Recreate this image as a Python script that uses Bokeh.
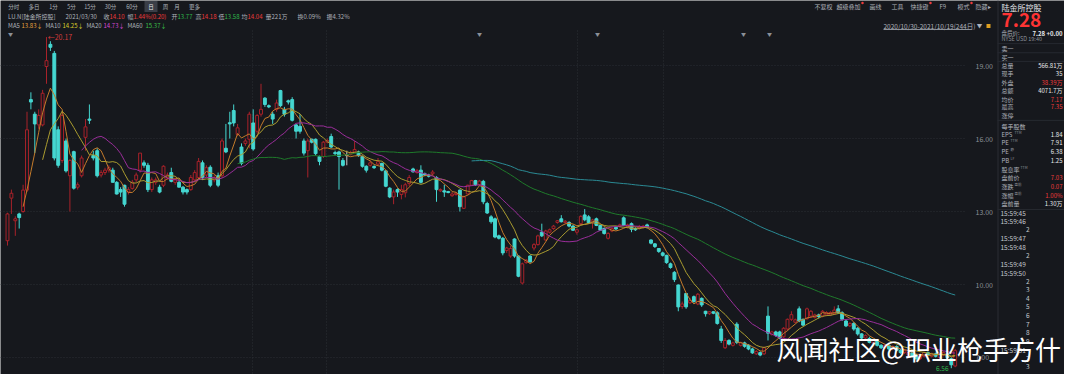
import numpy as np
import pandas as pd
from bokeh.plotting import figure
from bokeh.models import (Range1d, LinearAxis, FixedTicker, PrintfTickFormatter,
                          ColumnDataSource)
from bokeh.core.properties import value
from bokeh.embed import file_html
from bokeh.resources import INLINE

# ---------------- data (daily candles, 2020/10/30 - 2021/10/19) ----------------
opens = [
    11.80, 13.55, 12.62, 12.90, 13.00, 13.88, 17.60, 17.00, 16.56, 16.56,
    18.96, 19.87, 19.50, 16.36, 15.10, 15.90, 14.47, 15.46, 14.00, 14.47,
    16.05, 16.80, 15.30, 15.50, 14.50, 14.60, 14.70, 14.70, 14.20, 13.90,
    14.08, 13.80, 13.95, 14.30, 14.70, 15.00, 14.90, 13.90, 14.20, 14.00,
    14.08, 14.40, 14.60, 14.20, 14.20, 14.00, 13.90, 13.90, 14.30, 14.40,
    15.00, 14.50, 14.82, 14.30, 14.47, 14.47, 15.60, 16.65, 17.15, 16.17,
    15.65, 15.80, 15.97, 16.64, 16.30, 17.00, 17.66, 17.35, 17.00, 17.20,
    17.97, 17.20, 17.55, 17.60, 16.56, 16.50, 15.90, 15.50, 15.97, 15.97,
    15.26, 15.26, 15.85, 16.08, 15.42, 15.45, 15.10, 15.30, 15.35, 15.45,
    15.45, 15.26, 14.86, 14.90, 14.85, 14.95, 14.98, 14.67, 13.96, 13.60,
    13.90, 13.70, 13.77, 14.15, 14.75, 14.60, 14.70, 14.55, 14.50, 14.55,
    14.40, 13.85, 13.85, 13.82, 13.65, 13.70, 13.88, 13.13, 13.72, 14.08,
    14.27, 14.10, 14.24, 13.33, 12.78, 12.70, 12.00, 11.90, 11.40, 11.17,
    11.87, 11.17, 10.06, 10.90, 11.17, 11.50, 11.64, 12.15, 11.83, 12.15,
    12.30, 12.55, 12.70, 12.55, 12.55, 12.40, 12.15, 12.50, 12.86, 12.78,
    12.55, 12.70, 12.43, 12.30, 11.90, 12.20, 12.35, 12.40, 12.74, 12.35,
    12.50, 12.30, 12.30, 12.35, 12.45, 11.83, 11.67, 11.48, 11.30, 11.20,
    10.85, 10.50, 9.98, 9.10, 9.63, 9.25, 9.50, 9.20, 9.43, 8.90,
    8.80, 8.88, 8.84, 8.17, 7.40, 7.70, 7.50, 8.37, 7.50, 7.60,
    7.50, 7.35, 7.15, 7.20, 7.15, 8.70, 7.95, 8.05, 8.05, 7.85,
    8.17, 8.57, 8.45, 9.00, 8.57, 8.60, 8.70, 8.65, 8.75, 8.70,
    8.75, 8.75, 8.80, 9.00, 8.84, 8.50, 8.30, 8.40, 8.20, 7.97,
    7.80, 7.78, 7.60, 7.70, 7.50, 7.40, 7.50, 7.35, 7.45, 7.30,
    7.20, 7.10, 7.20, 7.10, 6.95, 7.05, 7.20, 7.05, 7.15, 7.00,
    7.10, 7.15, 6.95, 6.65,
]
highs = [
    12.95, 13.90, 12.80, 12.95, 14.10, 17.10, 17.90, 17.10, 17.20, 18.00,
    20.17, 20.00, 19.60, 16.50, 17.10, 16.00, 15.15, 15.50, 14.20, 15.30,
    16.80, 17.40, 15.50, 15.60, 14.70, 14.80, 14.90, 14.80, 14.25, 14.00,
    14.10, 14.00, 14.30, 14.60, 15.40, 15.10, 15.00, 14.40, 14.40, 14.10,
    14.90, 14.60, 14.80, 14.40, 14.30, 14.05, 13.95, 14.50, 14.70, 15.20,
    15.10, 14.90, 14.90, 14.50, 14.60, 16.00, 16.60, 17.10, 17.40, 16.60,
    15.80, 16.00, 17.10, 17.20, 17.00, 18.25, 17.70, 17.40, 17.10, 17.60,
    18.00, 17.30, 17.60, 17.70, 16.60, 17.00, 16.00, 16.00, 16.00, 16.00,
    15.30, 15.90, 16.00, 16.20, 15.50, 15.50, 15.20, 15.50, 15.50, 15.90,
    15.50, 15.30, 14.90, 15.10, 14.90, 15.20, 15.00, 14.70, 14.00, 13.90,
    13.95, 14.10, 14.18, 14.50, 14.80, 14.75, 14.90, 14.60, 14.55, 14.70,
    14.45, 13.95, 14.10, 13.85, 13.80, 13.80, 13.90, 13.65, 14.10, 14.30,
    14.30, 14.30, 14.30, 13.40, 12.85, 12.75, 12.05, 11.95, 11.55, 11.60,
    11.90, 11.20, 10.90, 11.05, 11.20, 11.70, 12.05, 12.50, 12.25, 12.30,
    12.45, 12.65, 12.85, 12.65, 12.60, 12.45, 12.30, 12.85, 13.10, 12.85,
    12.70, 12.75, 12.45, 12.35, 12.15, 12.35, 12.40, 12.50, 12.80, 12.50,
    12.55, 12.35, 12.45, 12.45, 12.50, 11.85, 11.70, 11.50, 11.35, 11.22,
    10.90, 10.55, 10.00, 9.30, 9.65, 9.45, 9.55, 9.65, 9.47, 8.92,
    8.90, 8.90, 8.90, 8.30, 7.80, 7.75, 7.65, 8.45, 7.65, 7.65,
    7.55, 7.40, 7.30, 7.25, 7.45, 9.10, 8.10, 8.10, 8.10, 8.25,
    8.60, 8.90, 8.60, 9.10, 8.60, 9.05, 8.95, 8.80, 8.80, 8.95,
    8.90, 8.90, 9.10, 9.15, 8.90, 8.55, 8.45, 8.45, 8.25, 8.00,
    7.95, 7.85, 7.75, 7.75, 7.55, 7.55, 7.55, 7.50, 7.50, 7.35,
    7.35, 7.25, 7.25, 7.15, 7.15, 7.25, 7.25, 7.20, 7.20, 7.20,
    7.25, 7.20, 7.00, 7.35,
]
lows = [
    11.60, 12.90, 12.00, 12.30, 12.95, 13.80, 17.20, 15.40, 16.40, 16.50,
    18.25, 19.60, 15.10, 14.80, 15.00, 14.60, 13.00, 13.90, 13.90, 14.40,
    15.50, 16.60, 15.10, 14.40, 14.40, 14.50, 14.60, 14.20, 13.70, 13.60,
    13.20, 13.70, 13.90, 14.20, 14.60, 14.80, 13.80, 13.80, 14.10, 13.75,
    14.00, 14.30, 14.20, 14.10, 14.00, 13.70, 13.70, 13.85, 14.20, 14.30,
    14.30, 14.40, 14.00, 14.20, 14.00, 14.40, 15.40, 16.00, 16.50, 16.10,
    14.90, 15.70, 15.60, 15.50, 16.20, 16.90, 17.30, 17.25, 16.60, 17.10,
    17.30, 16.90, 17.40, 16.70, 16.00, 16.20, 15.30, 14.40, 15.80, 15.30,
    14.90, 15.20, 15.80, 15.60, 15.30, 13.90, 14.85, 14.90, 15.30, 15.40,
    15.25, 14.80, 14.60, 14.85, 14.75, 14.90, 14.65, 14.00, 13.55, 13.30,
    13.60, 13.50, 13.58, 14.05, 14.60, 14.55, 14.15, 14.45, 14.40, 14.50,
    13.40, 13.80, 13.60, 13.75, 13.60, 13.65, 13.00, 13.10, 13.70, 14.05,
    14.05, 14.05, 13.30, 12.90, 12.50, 11.90, 11.85, 11.20, 11.30, 11.10,
    11.10, 10.30, 10.00, 10.85, 10.90, 11.40, 11.60, 11.95, 11.80, 12.10,
    12.25, 12.50, 12.55, 12.50, 12.35, 12.20, 12.05, 12.45, 12.60, 12.50,
    12.30, 12.40, 12.20, 12.05, 11.85, 12.15, 12.25, 12.35, 12.40, 12.30,
    12.15, 12.20, 12.25, 12.30, 12.30, 11.65, 11.50, 11.30, 11.15, 10.85,
    10.65, 10.10, 8.90, 9.00, 9.00, 9.20, 9.25, 9.15, 9.08, 8.68,
    8.75, 8.78, 8.35, 7.60, 7.35, 7.50, 7.45, 7.55, 7.45, 7.40,
    7.30, 7.15, 7.10, 7.05, 7.10, 7.70, 7.90, 7.85, 7.75, 7.80,
    8.10, 8.50, 8.40, 8.45, 8.30, 8.55, 8.65, 8.60, 8.60, 8.65,
    8.70, 8.70, 8.75, 8.80, 8.50, 8.25, 8.25, 8.10, 7.90, 7.75,
    7.75, 7.58, 7.55, 7.45, 7.35, 7.35, 7.30, 7.30, 7.25, 7.15,
    7.15, 7.05, 7.00, 6.90, 6.90, 7.00, 7.05, 7.00, 7.00, 6.95,
    7.05, 6.95, 6.56, 6.60,
]
closes = [
    12.90, 13.75, 12.70, 12.75, 13.88, 16.36, 17.50, 16.60, 16.95, 17.86,
    19.20, 19.75, 15.20, 14.90, 16.95, 14.67, 15.10, 13.96, 14.10, 15.20,
    16.48, 16.75, 15.20, 14.47, 14.60, 14.70, 14.80, 14.20, 13.72, 13.80,
    13.30, 13.90, 14.20, 14.50, 15.40, 14.90, 13.90, 14.30, 14.30, 13.80,
    14.86, 14.50, 14.24, 14.30, 14.00, 13.80, 13.80, 14.40, 14.60, 15.06,
    14.40, 14.80, 14.08, 14.40, 14.08, 15.90, 15.45, 16.60, 16.64, 16.44,
    14.98, 15.90, 17.00, 15.57, 16.95, 17.20, 17.40, 17.30, 16.80, 17.46,
    17.35, 17.00, 17.50, 16.75, 16.30, 16.30, 15.40, 15.90, 15.85, 15.38,
    15.06, 15.85, 15.92, 15.65, 15.38, 15.26, 14.90, 15.30, 15.42, 15.55,
    15.30, 14.86, 14.70, 15.00, 14.80, 15.05, 14.70, 14.04, 13.60, 13.80,
    13.80, 13.90, 14.10, 14.40, 14.63, 14.68, 14.20, 14.50, 14.45, 14.62,
    13.90, 13.90, 13.80, 13.78, 13.72, 13.75, 13.20, 13.60, 14.08, 14.27,
    14.10, 14.25, 13.40, 12.94, 12.58, 11.95, 11.90, 11.30, 11.50, 11.48,
    11.17, 10.34, 10.85, 11.00, 10.93, 11.64, 12.00, 12.00, 12.20, 12.25,
    12.40, 12.62, 12.58, 12.60, 12.40, 12.23, 12.25, 12.80, 12.66, 12.54,
    12.65, 12.43, 12.23, 12.10, 12.10, 12.30, 12.28, 12.45, 12.43, 12.45,
    12.27, 12.25, 12.38, 12.40, 12.38, 11.70, 11.56, 11.36, 11.20, 10.90,
    10.70, 10.20, 9.08, 9.20, 9.08, 9.35, 9.30, 9.60, 9.16, 8.80,
    8.88, 8.82, 8.40, 7.70, 7.70, 7.55, 7.60, 7.62, 7.60, 7.46,
    7.35, 7.19, 7.25, 7.10, 7.40, 8.00, 8.05, 7.90, 7.80, 8.20,
    8.57, 8.76, 8.55, 8.50, 8.33, 9.00, 8.90, 8.75, 8.68, 8.90,
    8.85, 8.85, 8.95, 8.84, 8.57, 8.30, 8.40, 8.17, 7.97, 7.80,
    7.90, 7.62, 7.70, 7.50, 7.40, 7.50, 7.35, 7.45, 7.30, 7.20,
    7.30, 7.20, 7.05, 6.95, 7.10, 7.20, 7.10, 7.15, 7.05, 7.15,
    7.20, 7.00, 6.70, 7.28,
]
first_date, last_date = "2020/10/30", "2021/10/19"
ma_windows = [5, 10, 20, 60, 120]
price_ticks = [7, 10, 13, 16, 19]

hover_index = 102
hover_date = "2021/03/30"
hover_avg = "14.04"
hover_extra = ["量221万", "换0.09%"]
ma_header_names = ["MA5", "MA10", "MA20", "MA60"]
ma_header_values = [13.83, 14.25, 14.73, 15.37]

tabs = ["分时", "多日", "1分", "5分", "15分", "30分", "60分", "日", "周", "月", "更多"]
tools = ["不复权", "超级叠加", "画线", "工具", "快捷键", "F9", "模式", "隐藏▸"]

side_labels = ["卖一", "买一", "总量", "现手", "外盘", "总额", "均价", "最高", "涨停", "每手股数",
               "EPS", "PE", "PE", "PB", "股息率", "盘前价", "涨跌", "涨幅", "盘前量"]
side_sups = ["", "", "", "", "", "", "", "", "", "", "TTM", "TTM", "静", "LF", "TTM", "", "盘前", "盘前", ""]
side_values = ["", "", "566.81万", "35", "38.39万", "4071.7万", "7.17", "7.35", "", "",
               "1.84", "7.91", "6.38", "1.25", "", "7.03", "0.07", "1.00%", "1.30万"]
side_value_red = [0, 0, 0, 0, 1, 0, 1, 1, 0, 0, 0, 0, 0, 0, 0, 1, 1, 1, 0]
ticks_times = ["15:59:45", "15:59:46", "2", "15:59:47", "15:59:48", "2", "15:59:49", "15:59:50",
               "2", "3", "4", "5", "6", "7", "8", "9", "15:59:51", "2", "3"]
WATERMARK = "风闻社区@职业枪手方什"

# ---------------- style / layout constants ----------------
BG = "#16181d"
UP = "#a8222a"
DN = "#45d7d1"
DOJI = "#c9c9c9"
GRID = "#2b2e35"
LBL = "#aeb2ba"
WHITE = "#e6e8ec"
RED = "#ee3b3b"
GRN = "#2fb94c"
AXC = "#8b9098"
FONT = "Noto Sans CJK SC"
MA_COLORS = ["#c47b2b", "#aa9c30", "#9a2e9a", "#1f7a2b", "#2b8a94"]
MA_HEAD_COLORS = ["#e8a33d", "#d9d12b", "#d84ad8", "#3cc04a"]

W, H = 1064, 374
CHART_TOP = 30       # px where the price area starts
CHART_R = 964        # px where the price area ends (axis labels follow)
SIDE_L = 997         # px where the quote panel starts
PXU = 24.33          # pixels per price unit
Y_TOP = 20.44        # price at CHART_TOP
X0, DX = 7.0, 3.9    # first candle px, px per trading day
SY = 0.959           # vertical scale for side panel rows


def X(px):
    return (px - X0) / DX


def Y(gy):
    return Y_TOP - (gy - CHART_TOP) / PXU


def put(xs, ys, texts, color, size, align="left", style="normal"):
    p.text(x=[X(v) for v in xs], y=[Y(v) for v in ys], text=list(texts), text_color=color,
           text_font_size=size, text_align=align, text_baseline="middle",
           text_font=value(FONT), text_font_style=style)


def hline(x0, x1, y, color, dash="solid"):
    p.segment(x0=[X(x0)], y0=[Y(y)], x1=[X(x1)], y1=[Y(y)], line_color=color,
              line_width=1, line_dash=dash)


p = figure(width=W, height=H, x_range=Range1d(X(0), X(W)), y_range=Range1d(Y(H), Y(0)),
           toolbar_location=None, output_backend="svg", x_axis_location=None,
           y_axis_location=None, background_fill_color=BG, border_fill_color=BG,
           outline_line_color=None, min_border=0)
p.grid.visible = False

# ---------------- price axis & grid ----------------
ax = LinearAxis(ticker=FixedTicker(ticks=price_ticks), fixed_location=X(CHART_R),
                formatter=PrintfTickFormatter(format="%.2f"),
                axis_line_color=None, major_tick_line_color=None, minor_tick_line_color=None,
                major_label_text_color=AXC, major_label_text_font_size="7px",
                major_label_standoff=5, major_label_text_font=FONT)
p.add_layout(ax, "right")
p.segment(x0=[X(0)] * len(price_ticks), y0=price_ticks, x1=[X(CHART_R)] * len(price_ticks),
          y1=price_ticks, line_color=GRID, line_dash="1 2", line_width=1)
for gx in [252, 326, 577, 663]:
    p.segment(x0=[X(gx)], y0=[Y(CHART_TOP)], x1=[X(gx)], y1=[Y(H)], line_color=GRID,
              line_dash="1 2", line_width=1)

# ---------------- candles ----------------
n = len(closes)
idx = list(range(n))
o = np.array(opens); h = np.array(highs); l = np.array(lows); c = np.array(closes)
cols = [UP if cc > oo else (DN if cc < oo else DOJI) for oo, cc in zip(opens, closes)]
fills = [BG if cc > oo else col for oo, cc, col in zip(opens, closes, cols)]
src = ColumnDataSource(dict(x=idx, h=highs, l=lows, top=list(np.maximum(o, c)),
                            bot=list(np.minimum(o, c)), col=cols, fill=fills))
p.segment(x0="x", y0="l", x1="x", y1="h", line_color="col", line_width=1, source=src)
p.vbar(x="x", width=0.74, top="top", bottom="bot", fill_color="fill", line_color="col",
       line_width=1, source=src)

s = pd.Series(closes)
for w, colr in zip(ma_windows, MA_COLORS):
    p.line(idx, s.rolling(w).mean().to_numpy(), line_color=colr, line_width=1)

hi = int(np.argmax(h)); lo = int(np.argmin(l))
p.text(x=[hi + 0.3], y=[h[hi]], text=[f"←{h[hi]:.2f}"], text_color="#d23b3b",
       text_font_size="7px", text_baseline="middle", text_font=value(FONT))
p.text(x=[lo - 0.7], y=[l[lo]], text=[f"{l[lo]:.2f}"], text_color=GRN, text_font_size="6.5px",
       text_baseline="middle", text_align="right", text_font=value(FONT))
marks = [10, 479, 597, 743, 769]
put(marks, [33] * len(marks), ["▼"] * len(marks), AXC, "5px", align="center")

# ---------------- header ----------------
p.rect(x=[X(150.5)], y=[Y(6)], width=13 / DX, height=11 / PXU, fill_color="#3a3e47",
       line_color=None)
tab_x = [13.3, 33.5, 53, 71, 89.5, 110, 131.5, 150.5, 165, 176.5, 194]
put(tab_x, [6] * len(tabs), tabs, [WHITE if t == "日" else LBL for t in tabs], "5.5px",
    align="center")

tool_x = [814, 836, 869, 891, 910, 939, 957, 975]
put(tool_x, [6] * len(tools), tools, LBL, "6px")
p.scatter(x=[X(862), X(930), X(971)], y=[Y(2.5)] * 3, size=2.5, color=RED, line_color=None)

HO, HH, HL, HC = opens[hover_index], highs[hover_index], lows[hover_index], closes[hover_index]
prev = closes[hover_index - 1]
chg = HC - prev
pct = chg / prev * 100
amp = (HH - HL) / prev * 100


def pc(v):
    return RED if v > prev else (GRN if v < prev else WHITE)


put([7.6, 65], [15.5, 15.5], ["LU.N[陆金所控股]", hover_date], LBL, "6px")
lab_x = [103, 127, 171, 195, 218, 241]
put(lab_x, [15.5] * 6, ["收", "幅", "开", "高", "低", "均"], LBL, "6px")
vals = [f"{HC:.2f}", f"{pct:.2f}%({chg:.2f})", f"{HO:.2f}", f"{HH:.2f}", f"{HL:.2f}", hover_avg]
vcol = [pc(HC), pc(HC), pc(HO), pc(HH), pc(HL), pc(float(hover_avg))]
put([x + 6 for x in lab_x], [15.5] * 6, vals, vcol, "6px")
put([265, 297, 326], [15.5] * 3, hover_extra + [f"振{amp:.2f}%"], LBL, "6px")

put([7.6, 45, 86, 127], [25] * 4, ma_header_names, LBL, "6px")
put([21, 62, 103, 145], [25] * 4, [f"{v:.2f}↓" for v in ma_header_values],
    MA_HEAD_COLORS, "6px")

put([883], [25], [f"{first_date}-{last_date}({n}日)"], LBL, "6.5px")
hline(883, 971, 29, AXC)
put([979], [25], ["▼"], LBL, "5.5px", align="center")
p.rect(x=[X(988)], y=[Y(25.5)], width=4 / DX, height=4 / PXU, fill_color="#e0a020",
       line_color=None)

# ---------------- side quote panel ----------------
SX = SIDE_L + 4
p.segment(x0=[X(SIDE_L + 0.5)], y0=[Y(0)], x1=[X(SIDE_L + 0.5)], y1=[Y(H)],
          line_color="#2a2d34", line_width=1)
for ry in [45, 54.5, 63.5, 125, 218]:
    hline(SIDE_L, W, ry * SY, "#262930")

put([SX], [7.3], ["陆金所控股"], WHITE, "8px")
put([SX], [19.5], [f"{closes[-1]:.2f}"], "#ff3434", "19px", style="bold")
put([SX], [32.6], ["盘后价:"], LBL, "5.5px")
put([W - 2], [32.6], [f"{closes[-1]:.2f} +0.00"], WHITE, "6px", align="right", style="bold")
put([SX], [38.6], ["NYSE  USD  19:40"], AXC, "5.5px")

row_y = [50, 59, 68, 76, 86, 94, 103, 111, 120, 131, 140, 148, 157, 167, 176, 185, 194, 203, 212]
sup_dx = [0, 0, 0, 0, 0, 0, 0, 0, 0, 0, 13, 9, 9, 9, 19, 0, 13, 13, 0]
put([SX] * len(side_labels), [y * SY for y in row_y], side_labels, LBL, "6px")
ks = [k for k in range(len(side_sups)) if side_sups[k]]
put([SX + sup_dx[k] for k in ks], [row_y[k] * SY - 2 for k in ks], [side_sups[k] for k in ks],
    AXC, "3.5px")
kv = [k for k in range(len(side_values)) if side_values[k]]
put([W - 2] * len(kv), [row_y[k] * SY for k in kv], [side_values[k] for k in kv],
    [RED if side_value_red[k] else WHITE for k in kv], "6px", align="right")

time_y = [224, 233, 242, 251, 260, 269, 278, 287, 296, 305, 314, 323, 332, 341, 350, 359, 368,
          377, 386]
TSY = 0.952
long_t = [k for k, t in enumerate(ticks_times) if len(t) > 2]
short_t = [k for k, t in enumerate(ticks_times) if len(t) <= 2]
put([SX - 1] * len(long_t), [time_y[k] * TSY - 1 for k in long_t],
    [ticks_times[k] for k in long_t], "#c4c8cf", "6.5px")
put([SX + 28] * len(short_t), [time_y[k] * TSY - 1 for k in short_t],
    [ticks_times[k] for k in short_t], "#c4c8cf", "6.5px", align="right")

# ---------------- watermark ----------------
put([776], [348], [WATERMARK], "#ffffff", "26px")

open("out.html", "w").write(file_html(p, INLINE))
